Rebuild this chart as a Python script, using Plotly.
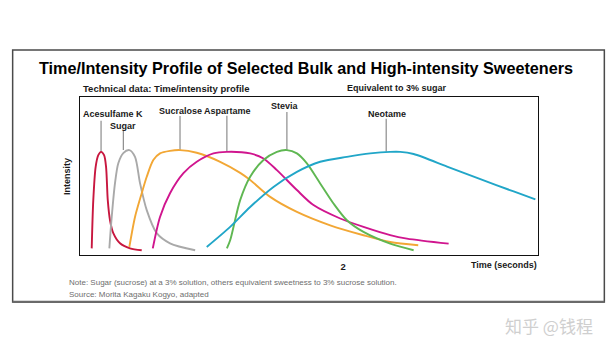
import numpy as np
import plotly.graph_objects as go

# ---------------- data (time in seconds, intensity 0-100) ----------------
acesulfame_t = [0.089, 0.101, 0.119, 0.139, 0.160, 0.183, 0.198, 0.211, 0.228, 0.253, 0.304, 0.380, 0.469]
acesulfame_i = [4.2, 34.7, 55.8, 63.2, 65.3, 63.2, 55.8, 34.7, 22.0, 13.8, 7.4, 4.2, 3.0]

sugar_t = [0.223, 0.241, 0.266, 0.291, 0.329, 0.375, 0.418, 0.456, 0.507, 0.583, 0.684, 0.875]
sugar_i = [4.2, 24.1, 45.5, 58.1, 64.5, 66.4, 62.1, 45.5, 28.4, 13.8, 7.4, 3.0]

sucralose_t = [0.375, 0.418, 0.469, 0.507, 0.557, 0.608, 0.684, 0.760, 0.887, 1.065, 1.217,
               1.293, 1.445, 1.648, 1.901, 2.154, 2.357, 2.570]
sucralose_i = [5.1, 24.1, 39.1, 49.5, 60.1, 64.3, 65.9, 66.4, 64.7, 59.0, 52.0,
               47.5, 36.8, 27.3, 18.8, 12.5, 8.2, 6.2]

aspartame_t = [0.553, 0.608, 0.684, 0.786, 0.887, 1.014, 1.116, 1.293, 1.394, 1.496, 1.648,
               1.774, 1.977, 2.154, 2.357, 2.484, 2.801]
aspartame_i = [4.2, 24.1, 39.1, 51.8, 59.0, 64.3, 65.3, 64.3, 61.1, 53.7, 41.1,
               31.6, 23.1, 17.8, 12.6, 10.4, 7.2]

stevia_t = [1.116, 1.141, 1.217, 1.293, 1.394, 1.496, 1.572, 1.648, 1.724, 1.825, 1.926,
            2.028, 2.154, 2.357, 2.535]
stevia_i = [4.2, 9.3, 34.7, 49.5, 60.1, 65.3, 66.4, 64.3, 58.0, 45.3, 32.6,
            22.0, 14.6, 7.2, 3.0]

neotame_t = [0.963, 1.141, 1.293, 1.470, 1.648, 1.825, 2.028, 2.205, 2.357, 2.433, 2.535,
             2.789, 3.042, 3.295, 3.460]
neotame_i = [5.1, 17.8, 30.4, 43.1, 52.6, 59.0, 62.1, 64.3, 65.3, 65.3, 63.9,
             56.0, 48.0, 40.2, 35.2]

x_ticks = [2]
x_tick_labels = ["2"]

series = [
    ("Acesulfame K", acesulfame_t, acesulfame_i),
    ("Sugar", sugar_t, sugar_i),
    ("Sucralose", sucralose_t, sucralose_i),
    ("Aspartame", aspartame_t, aspartame_i),
    ("Stevia", stevia_t, stevia_i),
    ("Neotame", neotame_t, neotame_i),
]

# ---------------- styling ----------------
W, H = 615, 350
PL, PR, PT, PB = 80, 537.7, 97, 254.7  # plot box in pixels

colors = {
    "Acesulfame K": "#c8173f",
    "Sugar": "#a9a9a9",
    "Sucralose": "#f2a735",
    "Aspartame": "#d0158e",
    "Stevia": "#5fb752",
    "Neotame": "#21a6c8",
}
# label offsets relative to the curve peak: (text dx, text dy, leader dx, leader length) in px
label_style = {
    "Acesulfame K": (12, 38, 0, 31),
    "Sugar": (-6, 24, -6, 20),
    "Sucralose": (0, 39, 0, 34),
    "Aspartame": (1, 41, 0, 36),
    "Stevia": (-2, 44, 0, 38),
    "Neotame": (-3, 38, -4, 33),
}

FONT = "Liberation Sans, Arial, sans-serif"


def px_x(p):
    return (p - PL) / (PR - PL)


def px_y(p):
    return (PB - p) / (PB - PT)


fig = go.Figure()
for name, t, i in series:
    fig.add_trace(go.Scatter(
        x=t, y=i, mode="lines", name=name,
        line=dict(color=colors[name], width=1.9, shape="spline", smoothing=0.8),
        hoverinfo="x+y+name",
    ))

annotations = []
shapes = []
for name, t, i in series:
    k = int(np.argmax(i))
    pt, pi = t[k], i[k]
    tdx, tdy, ldx, llen = label_style[name]
    shapes.append(dict(
        type="line", xref="x", yref="y",
        xsizemode="pixel", ysizemode="pixel",
        xanchor=pt, yanchor=pi,
        x0=ldx, x1=ldx, y0=0, y1=llen,
        line=dict(color="#8c8c8c", width=1.2),
        layer="below",
    ))
    annotations.append(dict(
        x=pt, y=pi, xref="x", yref="y", text=name, showarrow=False,
        xshift=tdx, yshift=tdy, xanchor="center", yanchor="middle",
        font=dict(family=FONT, size=9, color="#1a1a1a", weight="bold"),
    ))

# titles and notes
annotations += [
    dict(x=px_x(306), y=px_y(68), xref="paper", yref="paper", showarrow=False,
         text="Time/Intensity Profile of Selected Bulk and High-intensity Sweeteners",
         xanchor="center", yanchor="middle",
         font=dict(family=FONT, size=16.2, color="#000000", weight="bold")),
    dict(x=px_x(81), y=px_y(88.5), xref="paper", yref="paper", showarrow=False,
         text="Technical data: Time/intensity profile", xanchor="left", yanchor="middle",
         font=dict(family=FONT, size=9.5, color="#1a1a1a", weight="bold")),
    dict(x=px_x(397), y=px_y(88.5), xref="paper", yref="paper", showarrow=False,
         text="Equivalent to 3% sugar", xanchor="center", yanchor="middle",
         font=dict(family=FONT, size=9, color="#1a1a1a", weight="bold")),
    dict(x=px_x(539), y=px_y(265), xref="paper", yref="paper", showarrow=False,
         text="Time (seconds)", xanchor="right", yanchor="middle",
         font=dict(family=FONT, size=9, color="#1a1a1a", weight="bold")),
    dict(x=px_x(67), y=px_y(175.8), xref="paper", yref="paper", showarrow=False,
         text="Intensity", textangle=-90, xanchor="center", yanchor="middle",
         font=dict(family=FONT, size=9, color="#1a1a1a", weight="bold")),
    dict(x=px_x(67), y=px_y(282.5), xref="paper", yref="paper", showarrow=False,
         text="Note: Sugar (sucrose) at a 3% solution, others equivalent sweetness to 3% sucrose solution.",
         xanchor="left", yanchor="middle",
         font=dict(family=FONT, size=8, color="#6e6e6e")),
    dict(x=px_x(67), y=px_y(294), xref="paper", yref="paper", showarrow=False,
         text="Source: Morita Kagaku Kogyo, adapted",
         xanchor="left", yanchor="middle",
         font=dict(family=FONT, size=8, color="#6e6e6e")),
    dict(x=px_x(549), y=px_y(325), xref="paper", yref="paper", showarrow=False,
         text="知乎 @钱程", xanchor="center", yanchor="middle",
         font=dict(family="Noto Sans CJK SC, sans-serif", size=17, color="#cfcfcf")),
]

# outer frame
shapes.append(dict(type="rect", xref="paper", yref="paper",
                   x0=px_x(12.7), x1=px_x(604), y0=px_y(301.5), y1=px_y(50),
                   line=dict(color="#4a4a4a", width=1.5), layer="below"))
shapes.append(dict(type="line", xref="paper", yref="paper",
                   x0=px_x(12.7), x1=px_x(604), y0=px_y(301.5), y1=px_y(301.5),
                   line=dict(color="#6a6a6a", width=2.2)))

fig.update_layout(
    width=W, height=H,
    margin=dict(l=PL, r=W - PR, t=PT, b=H - PB, autoexpand=False),
    paper_bgcolor="white", plot_bgcolor="white",
    showlegend=False,
    annotations=annotations,
    shapes=shapes,
    xaxis=dict(range=[0, 3.48], tickvals=x_ticks, ticktext=x_tick_labels,
               showgrid=False, zeroline=False, showline=True, mirror=True,
               linecolor="#111111", linewidth=1.3, ticks="", ticklabelstandoff=2,
               tickfont=dict(family=FONT, size=9.5, color="#1a1a1a", weight="bold"),
               fixedrange=True),
    yaxis=dict(range=[0, 100], showticklabels=False, showgrid=False, zeroline=False,
               showline=True, mirror=True, linecolor="#111111", linewidth=1.3, ticks="",
               fixedrange=True),
)

fig.write_html("out.html")
